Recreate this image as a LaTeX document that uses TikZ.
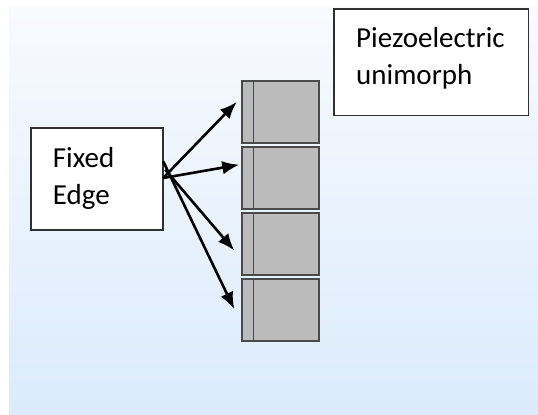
\documentclass[tikz,border=0pt]{standalone}
\usepackage{fontspec}
\setmainfont{Carlito}
\usetikzlibrary{arrows.meta}
\definecolor{bgtop}{HTML}{F8FAFE}
\definecolor{bgbottom}{HTML}{DBEBFC}
\definecolor{blockfill}{HTML}{BBBBBB}
\definecolor{blockline}{HTML}{4A4A4A}
\definecolor{boxline}{HTML}{303030}
\begin{document}
\begin{tikzpicture}[x=1bp,y=-1bp,
  labelbox/.style={draw=boxline,fill=white,line width=1.2bp,inner sep=0},
  labeltext/.style={anchor=base west,inner sep=0,font=\fontsize{29bp}{37bp}\selectfont},
  layer/.style={draw=blockline,fill=blockfill,line width=1.2bp},
  push/.style={-{Latex[length=17bp,width=13.5bp]},line width=2.6bp,black}]
\useasboundingbox (0,0) rectangle (538,414);
% background panel
\shade[top color=bgtop,bottom color=bgbottom] (9,7) rectangle (538,414);

% stacked unimorph layers
\foreach \i/\t in {1/81,2/147,3/213,4/279}{
  \path[layer] (242,\t) rectangle (319,\t+62);
  \node[inner sep=0,minimum width=77bp,minimum height=62bp,anchor=north west] (blk\i) at (242,\t) {};
  \draw[blockline,line width=1.2bp] (253.3,\t) -- (253.3,\t+62);
}

% label boxes
\path[labelbox] (31,128) rectangle (163,230);
\node[inner sep=0,minimum width=132bp,minimum height=102bp] (fixed) at (97,179) {};
\node[labeltext] (fixedtxt) at (52.7,167.3)
  {\begin{tabular}[t]{@{}l@{}}Fixed\\Edge\end{tabular}};

\path[labelbox] (334,9) rectangle (528.3,115.7);
\node[inner sep=0,minimum width=194.3bp,minimum height=106.7bp] (piezo) at (431.15,62.35) {};
\node[labeltext] (piezotxt) at (356,47.3)
  {\begin{tabular}[t]{@{}l@{}}Piezoelectric\\unimorph\end{tabular}};

% end points just short of the layers
\coordinate (t1) at ([xshift=-5.3bp,yshift=10.3bp]blk1.west);
\coordinate (t2) at ([xshift=-2.7bp,yshift=13.5bp]blk2.west);
\coordinate (t3) at ([xshift=-7.7bp,yshift=-6.3bp]blk3.west);
\coordinate (t4) at ([xshift=-7.7bp,yshift=1bp]blk4.west);

\draw[push] ([yshift=1bp]fixed.east) -- (t1);
\draw[push] ([yshift=1bp]fixed.east) -- (t2);
\draw[push] ([xshift=2bp,yshift=9.3bp]fixed.east) -- (t3);
\draw[push] ([yshift=17.7bp]fixed.east) -- (t4);
\end{tikzpicture}
\end{document}
